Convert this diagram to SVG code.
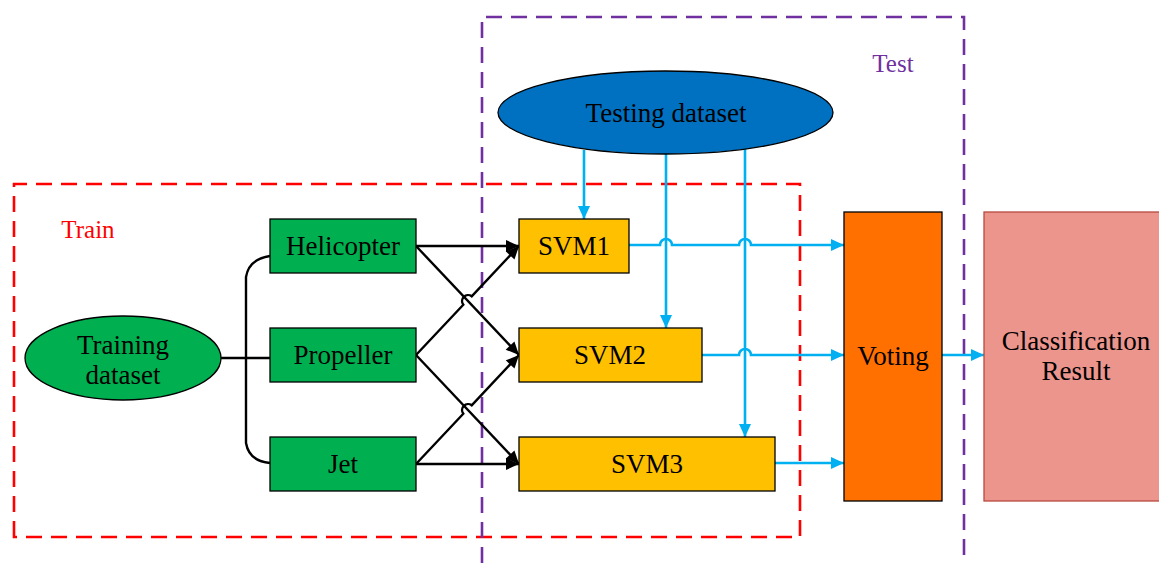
<svg xmlns="http://www.w3.org/2000/svg" width="1159" height="563" viewBox="0 0 1159 563">
<defs>
<style>
text{font-family:"Liberation Serif","Times New Roman",serif;font-size:27px;fill:#000;text-anchor:middle}
.node{stroke:#000;stroke-width:1.3}
.blk{fill:none;stroke:#000;stroke-width:2.4}
.blu{fill:none;stroke:#00B0F0;stroke-width:2.6}
</style>
<marker id="ab" markerUnits="userSpaceOnUse" markerWidth="16" markerHeight="16" viewBox="0 0 16 16" refX="14" refY="8" orient="auto">
<path d="M1,2 L14,8 L1,14 Z" fill="#000"/>
</marker>
<marker id="au" markerUnits="userSpaceOnUse" markerWidth="16" markerHeight="16" viewBox="0 0 16 16" refX="14" refY="8" orient="auto">
<path d="M1,2 L14,8 L1,14 Z" fill="#00B0F0"/>
</marker>
</defs>
<rect width="1159" height="563" fill="#fff"/>

<g id="train-frame">
<path d="M14,537 V184 H800 V537 Z" fill="none" stroke="#FF0000" stroke-width="2.6" stroke-dasharray="16,9"/>
<text x="88" y="238" style="fill:#FF0000;font-size:25px">Train</text>
</g>
<g id="test-frame">
<path d="M482,563 V17 H964 V555" fill="none" stroke="#7030A0" stroke-width="2.6" stroke-dasharray="16,9"/>
<text x="893" y="72" style="fill:#7030A0;font-size:25px">Test</text>
</g>

<g id="connectors">
<path class="blk" d="M221,358 H270"/>
<path class="blk" d="M270,256 Q249,259 246,277 V443 Q249,461 270,463"/>
<path class="blk" d="M416,246 H519" marker-end="url(#ab)"/>
<path class="blk" d="M416,246 L519,355" marker-end="url(#ab)"/>
<path class="blk" d="M416,355 L463.3,304.7 A6,6 0 0 1 471.7,296.3 L519,246" marker-end="url(#ab)"/>
<path class="blk" d="M416,355 L519,464" marker-end="url(#ab)"/>
<path class="blk" d="M416,464 L463.3,413.7 A6,6 0 0 1 471.7,405.3 L519,355" marker-end="url(#ab)"/>
<path class="blk" d="M416,464 H519" marker-end="url(#ab)"/>

<path class="blu" d="M584,150 V219" marker-end="url(#au)"/>
<path class="blu" d="M666,154 V328" marker-end="url(#au)"/>
<path class="blu" d="M745,148 V437" marker-end="url(#au)"/>
<path class="blu" d="M629,245 H660 A6,6 0 0 1 672,245 H739 A6,6 0 0 1 751,245 H844" marker-end="url(#au)"/>
<path class="blu" d="M702,355 H739 A6,6 0 0 1 751,355 H844" marker-end="url(#au)"/>
<path class="blu" d="M775,463 H844" marker-end="url(#au)"/>
<path class="blu" d="M942,355 H984" marker-end="url(#au)"/>
</g>

<g id="training-dataset">
<ellipse class="node" cx="123" cy="358" rx="98" ry="42" fill="#00B050"/>
<text x="123" y="354">Training</text>
<text x="123" y="384">dataset</text>
</g>
<g id="testing-dataset">
<ellipse class="node" cx="665.5" cy="112.5" rx="167.5" ry="41.5" fill="#0070C0"/>
<text x="666" y="122">Testing dataset</text>
</g>
<g id="helicopter">
<rect class="node" x="270" y="219" width="146" height="54" fill="#00B050"/>
<text x="343" y="255">Helicopter</text>
</g>
<g id="propeller">
<rect class="node" x="270" y="328" width="146" height="54" fill="#00B050"/>
<text x="343" y="364">Propeller</text>
</g>
<g id="jet">
<rect class="node" x="270" y="437" width="146" height="54" fill="#00B050"/>
<text x="343" y="473">Jet</text>
</g>
<g id="svm1">
<rect class="node" x="519" y="219" width="110" height="54" fill="#FFC000"/>
<text x="574" y="255">SVM1</text>
</g>
<g id="svm2">
<rect class="node" x="519" y="328" width="183" height="54" fill="#FFC000"/>
<text x="610" y="364">SVM2</text>
</g>
<g id="svm3">
<rect class="node" x="519" y="437" width="256" height="54" fill="#FFC000"/>
<text x="647" y="473">SVM3</text>
</g>
<g id="voting">
<rect class="node" x="844" y="212" width="98" height="289" fill="#FF7000"/>
<text x="893" y="365">Voting</text>
</g>
<g id="classification-result">
<rect x="984" y="212" width="180" height="289" fill="#EC958D" stroke="#B84A40" stroke-width="1.3"/>
<text x="1076" y="350">Classification</text>
<text x="1076" y="380">Result</text>
</g>
</svg>
